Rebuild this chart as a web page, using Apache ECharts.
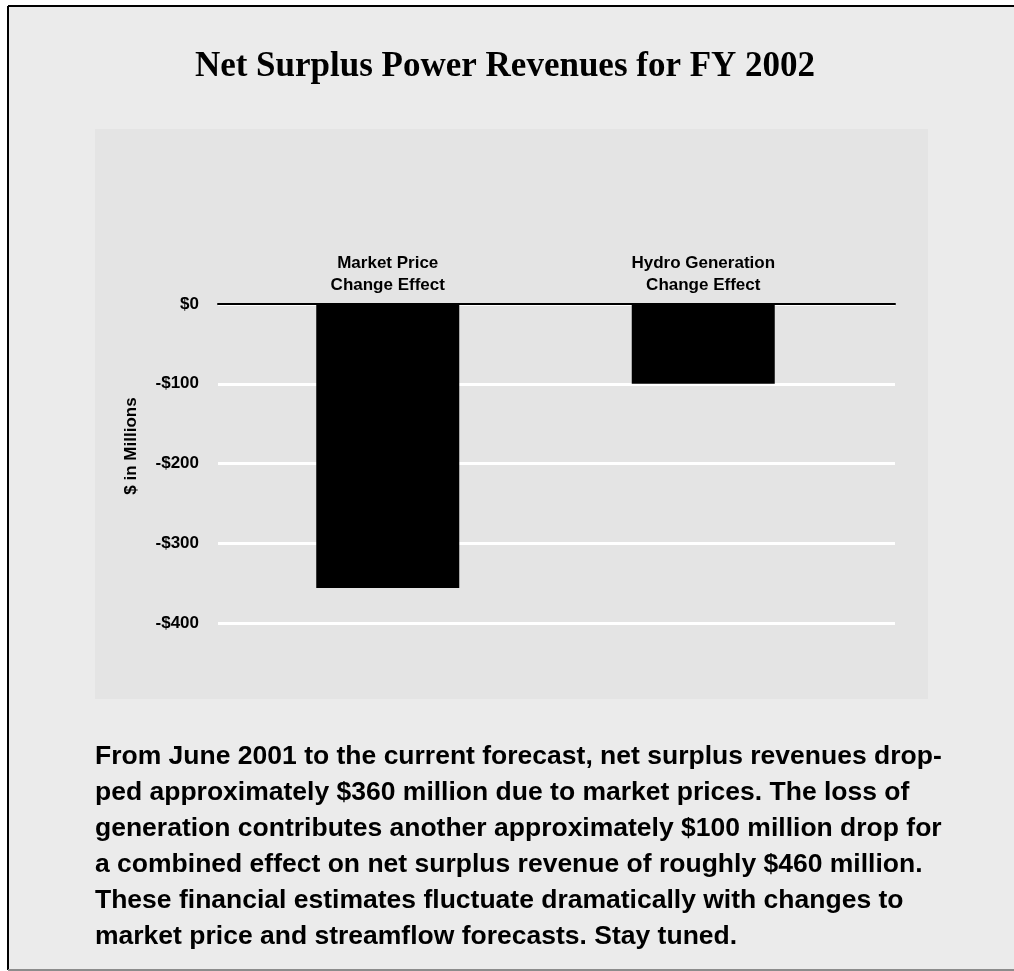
<!DOCTYPE html>
<html lang="en">
<head>
    <meta charset="utf-8">
    <title>Net Surplus Power Revenues for FY 2002</title>
    <script type="text/javascript" src="https://cdn.jsdelivr.net/npm/echarts@6/dist/echarts.min.js"></script>
    <style>
        html, body, #main {
            width: 100%; height: 100%; margin: 0; padding: 0; overflow: hidden; background-color: #ffffff;
        }
    </style>
</head>
<body>
<div id="main"></div>

<script type="text/javascript">
    // data
    var categories = ['Market Price\nChange Effect', 'Hydro Generation\nChange Effect'];
    var values = [-356, -100];
    var yMin = -400, yMax = 0, yStep = 100;

    var titleText = 'Net Surplus Power Revenues for FY 2002';
    var noteLines = [
        'From June 2001 to the current forecast, net surplus revenues drop-',
        'ped approximately $360 million due to market prices. The loss of',
        'generation contributes another approximately $100 million drop for',
        'a combined effect on net surplus revenue of roughly $460 million.',
        'These financial estimates fluctuate dramatically with changes to',
        'market price and streamflow forecasts. Stay tuned.'
    ];

    var sans = '"Liberation Sans", Arial, sans-serif';
    var serif = '"Liberation Serif", "Times New Roman", serif';

    var myChart = echarts.init(document.getElementById('main'));

    var option = {
        backgroundColor: '#ffffff',
        animation: false,
        grid: [
            // grid for the bars
            { left: 230, right: 153, top: 304, bottom: 348 },
            // grid for gridlines + zero line (wider than bars grid)
            { left: 218, right: 119, top: 304, bottom: 348 }
        ],
        xAxis: [
            {
                type: 'category',
                gridIndex: 0,
                position: 'top',
                data: categories,
                axisLine: { show: false },
                axisTick: { show: false },
                axisLabel: {
                    color: '#000', fontFamily: sans, fontWeight: 'bold',
                    fontSize: 17, lineHeight: 22, margin: 8
                }
            },
            {
                type: 'value',
                gridIndex: 1,
                position: 'top',
                min: 0, max: 1,
                axisLine: { show: true, onZero: false, lineStyle: { color: '#000', width: 2 } },
                axisTick: { show: false },
                axisLabel: { show: false },
                splitLine: { show: false }
            }
        ],
        yAxis: [
            {
                type: 'value',
                gridIndex: 0,
                min: yMin, max: yMax, interval: yStep,
                show: false
            },
            {
                type: 'value',
                gridIndex: 1,
                min: yMin, max: yMax, interval: yStep,
                axisLine: { show: false },
                axisTick: { show: false },
                axisLabel: {
                    color: '#000', fontFamily: sans, fontWeight: 'bold', fontSize: 17, margin: 19,
                    padding: [5, 0, 0, 0],
                    formatter: function (v) {
                        return v < 0 ? '-$' + (-v) : '$' + v;
                    }
                },
                splitLine: { show: true, lineStyle: { color: '#ffffff', width: 3 } }
            }
        ],
        series: [
            {
                type: 'bar',
                xAxisIndex: 0,
                yAxisIndex: 0,
                data: values,
                barWidth: 143,
                itemStyle: { color: '#000' },
                z: 3
            }
        ],
        graphic: [
            // outer box
            {
                type: 'rect', z: -10,
                shape: { x: 8, y: 6, width: 1020, height: 964 },
                style: { fill: '#ebebeb', stroke: null }
            },
            {
                type: 'line', z: -9,
                shape: { x1: 8, y1: 6, x2: 1014, y2: 6 },
                style: { stroke: '#000', lineWidth: 2 }
            },
            {
                type: 'line', z: -9,
                shape: { x1: 8, y1: 6, x2: 8, y2: 970 },
                style: { stroke: '#000', lineWidth: 2 }
            },
            {
                type: 'line', z: -9,
                shape: { x1: 8, y1: 970, x2: 1014, y2: 970 },
                style: { stroke: '#8c8c8c', lineWidth: 2 }
            },
            // plot panel
            {
                type: 'rect', z: -8,
                shape: { x: 95, y: 129, width: 833, height: 570 },
                style: { fill: '#e4e4e4' }
            },
            // title
            {
                type: 'text', z: 5,
                x: 505, y: 67,
                style: {
                    text: titleText, fill: '#000',
                    font: 'bold 35px ' + serif,
                    align: 'center', verticalAlign: 'middle'
                }
            },
            // y axis name
            {
                type: 'text', z: 5,
                x: 131, y: 446,
                rotation: Math.PI / 2,
                style: {
                    text: '$ in Millions', fill: '#000',
                    font: 'bold 17px ' + sans,
                    align: 'center', verticalAlign: 'middle'
                }
            },
            // note under the chart
            {
                type: 'text', z: 5,
                x: 95, y: 739,
                style: {
                    text: noteLines.join('\n'), fill: '#000',
                    font: 'bold 26.5px ' + sans,
                    lineHeight: 36,
                    align: 'left', verticalAlign: 'top'
                }
            }
        ]
    };

    myChart.setOption(option);
</script>
</body>
</html>
